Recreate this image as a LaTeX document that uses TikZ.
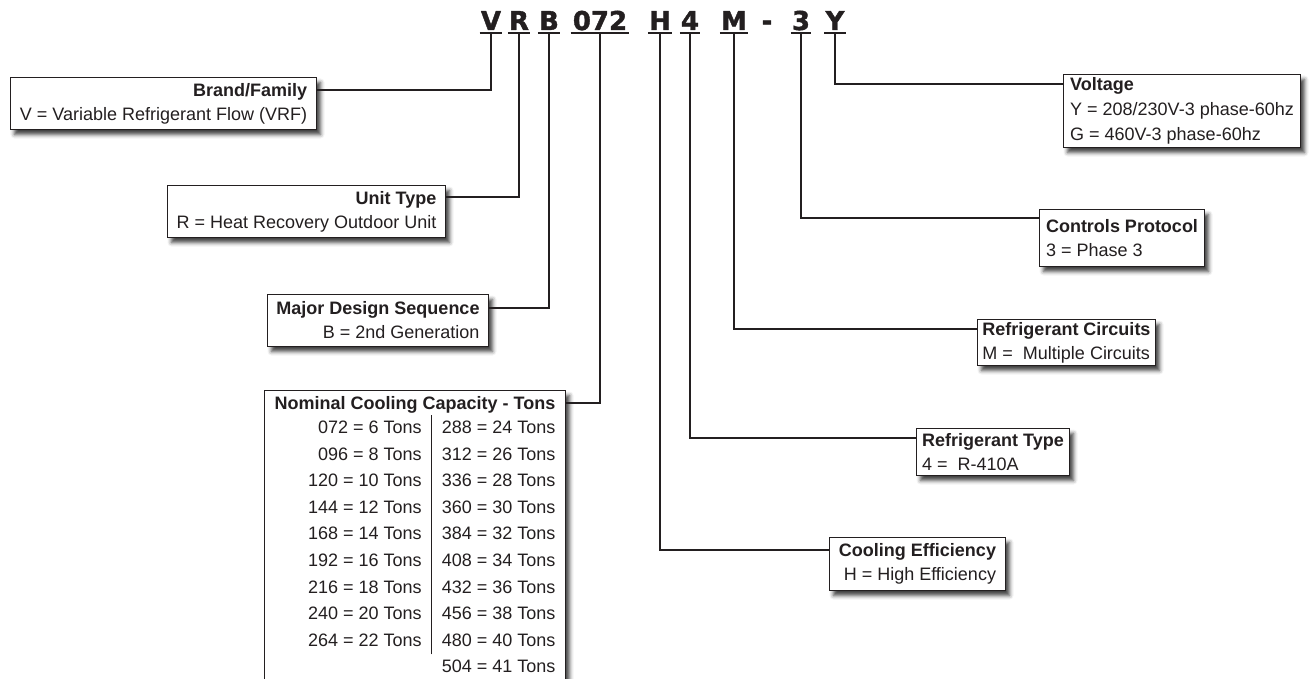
\documentclass[tikz,border=0pt]{standalone}
\usepackage{fontspec}
\setmainfont{Liberation Sans}
\newfontfamily\codefont{DejaVu Sans}[BoldFeatures={FakeBold=1.5}]
\usetikzlibrary{shadows.blur}
\definecolor{ink}{HTML}{231F20}
\setlength\tabcolsep{10pt}
\setlength\arrayrulewidth{1pt}
\tikzset{code/.style={font=\codefont\bfseries\fontsize{26}{26}\selectfont,text=ink,
           anchor=base,inner xsep=1pt,inner ysep=3pt,text depth=0pt},
         underbar/.style={draw=ink,line width=2pt},
         link/.style={draw=ink,line width=2pt},
         infobox/.style={draw=ink,line width=1pt,fill=white,text=ink,inner sep=2pt,
           font=\fontsize{18}{24}\selectfont,anchor=north west,
           blur shadow={shadow xshift=4pt,shadow yshift=-5pt,shadow blur radius=4pt,shadow opacity=75}},
         leftbox/.style={infobox,align=right},
         rightbox/.style={infobox,align=left}}

\begin{document}
\begin{tikzpicture}[x=1pt,y=-1pt]
\clip (0,0) rectangle (1310,679);
\node[code] (cV) at (491,30) {V};
\node[code] (cR) at (519,30) {R};
\node[code] (cB) at (549,30) {B};
\node[code,inner xsep=2pt] (cCap) at (600,30) {072};
\node[code] (cH) at (660,30) {H};
\node[code] (c4) at (690,30) {4};
\node[code] (cM) at (734,30) {M};
\node[code] (cDash) at (767,30) {-};
\node[code] (c3) at (801,30) {3};
\node[code] (cY) at (835,30) {Y};
\foreach \c in {cV,cR,cB,cCap,cH,c4,cM,c3,cY}
  \draw[underbar] (\c.south west) -- (\c.south east);

\node[leftbox,minimum width=306,minimum height=52] (brand) at (10,77)
  {\textbf{Brand/Family}\\V = Variable Refrigerant Flow (VRF)};
\node[leftbox,minimum width=278,minimum height=52] (unit) at (167,185)
  {\textbf{Unit Type}\\R = Heat Recovery Outdoor Unit};
\node[leftbox,minimum width=221,minimum height=52] (design) at (267,294)
  {\textbf{Major Design Sequence}\\B = 2nd Generation};
\node[leftbox,minimum width=301,inner ysep=6pt] (capacity) at (264,390)
  {\textbf{Nominal Cooling Capacity - Tons}\\
   {\fontsize{18}{26.6}\selectfont
   \begin{tabular}[t]{@{}r|r@{}}
   072 = 6 Tons & 288 = 24 Tons\\
   096 = 8 Tons & 312 = 26 Tons\\
   120 = 10 Tons & 336 = 28 Tons\\
   144 = 12 Tons & 360 = 30 Tons\\
   168 = 14 Tons & 384 = 32 Tons\\
   192 = 16 Tons & 408 = 34 Tons\\
   216 = 18 Tons & 432 = 36 Tons\\
   240 = 20 Tons & 456 = 38 Tons\\
   264 = 22 Tons & 480 = 40 Tons\\
   \multicolumn{2}{@{}r@{}}{504 = 41 Tons}
   \end{tabular}}};

\node[rightbox,minimum width=237,minimum height=73,font=\fontsize{18}{25}\selectfont] (volt) at (1063,74)
  {\textbf{Voltage}\\Y = 208/230V-3 phase-60hz\\G = 460V-3 phase-60hz};
\node[rightbox,minimum width=165,minimum height=57] (ctrl) at (1039,209)
  {\textbf{Controls Protocol}\\3 = Phase 3};
\node[rightbox,minimum width=178,minimum height=46] (circ) at (977,319)
  {\textbf{Refrigerant Circuits}\\M =\ \ Multiple Circuits};
\node[rightbox,minimum width=153,minimum height=47] (rtype) at (916,428)
  {\textbf{Refrigerant Type}\\4 =\ \ R-410A};
\node[leftbox,minimum width=176,minimum height=53] (eff) at (829,537)
  {\textbf{Cooling Efficiency}\\H = High Efficiency};

\draw[link] (cV.south) |- ([yshift=-13pt]brand.north east);
\draw[link] (cR.south) |- ([yshift=-12pt]unit.north east);
\draw[link] (cB.south) |- ([yshift=-14pt]design.north east);
\draw[link] (cCap.south) |- ([yshift=-13pt]capacity.north east);
\draw[link] (cH.south) |- ([yshift=-13pt]eff.north west);
\draw[link] (c4.south) |- ([yshift=-10pt]rtype.north west);
\draw[link] (cM.south) |- ([yshift=-10pt]circ.north west);
\draw[link] (c3.south) |- ([yshift=-9pt]ctrl.north west);
\draw[link] (cY.south) |- ([yshift=-10pt]volt.north west);
\end{tikzpicture}
\end{document}
